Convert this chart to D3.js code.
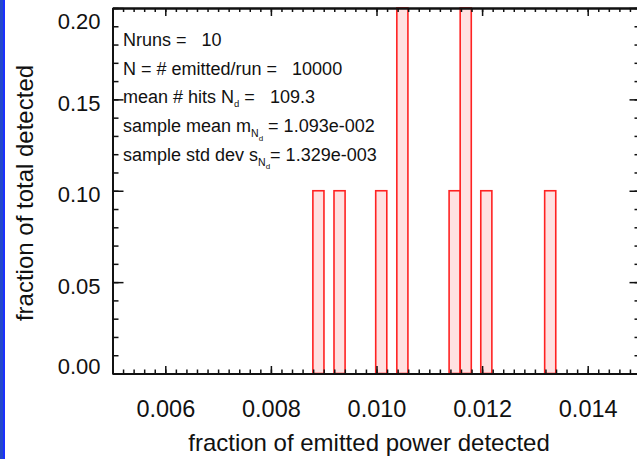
<!DOCTYPE html>
<html>
<head>
<meta charset="utf-8">
<script src="https://cdn.jsdelivr.net/npm/d3@7/dist/d3.min.js"></script>
<style>
  html, body { margin: 0; padding: 0; background: #fff; }
  svg { display: block; }
  text { font-family: "Liberation Sans", Arial, Helvetica, sans-serif; fill: #111; white-space: pre; }
</style>
</head>
<body>
<svg id="chart" width="637" height="459"></svg>
<script>
// ---- data ----
const binCenters = [0.00890, 0.00930, 0.01009, 0.01049, 0.01148, 0.01169, 0.01208, 0.01329];
const binHeights = [0.1, 0.1, 0.1, 0.2, 0.1, 0.2, 0.1, 0.1];
const binWidth = 0.00021;
const xDomain = [0.005, 0.015];
const yDomain = [0, 0.2];
const xMajorTicks = [0.006, 0.008, 0.010, 0.012, 0.014];
const yMajorTicks = [0.00, 0.05, 0.10, 0.15, 0.20];
const xTitle = "fraction of emitted power detected";
const yTitle = "fraction of total detected";
const annotations = [
  [{t: "Nruns =   10"}],
  [{t: "N = # emitted/run =   10000"}],
  [{t: "mean # hits N"}, {t: "d", sub: 1}, {t: " =   109.3"}],
  [{t: "sample mean m"}, {t: "N", sub: 1}, {t: "d", sub: 2}, {t: " = 1.093e-002"}],
  [{t: "sample std dev s"}, {t: "N", sub: 1}, {t: "d", sub: 2}, {t: "= 1.329e-003"}]
];

// ---- layout ----
const svg = d3.select("#chart");
const L = 112.5, R = 640.5, T = 8, B = 373.5;
const x = d3.scaleLinear().domain(xDomain).range([L, R]);
const y = d3.scaleLinear().domain(yDomain).range([B, T]);

// blue frame edge on the left
svg.append("rect").attr("x", 0).attr("y", 0).attr("width", 3).attr("height", 459).attr("fill", "#2348cc");
svg.append("rect").attr("x", 3).attr("y", 0).attr("width", 2).attr("height", 459).attr("fill", "#1a30ff");

// bars
svg.append("g").selectAll("rect").data(binCenters).join("rect")
  .attr("x", (d) => x(d - binWidth / 2))
  .attr("width", (d) => x(d + binWidth / 2) - x(d - binWidth / 2))
  .attr("y", (d, i) => y(binHeights[i]))
  .attr("height", (d, i) => y(0) - y(binHeights[i]))
  .attr("fill", "#ffe1e1")
  .attr("stroke", "#ff2222")
  .attr("stroke-width", 1.6);

// minor ticks
const xMinor = d3.range(0, 51).map(i => +(0.005 + i * 0.0002).toFixed(5));
const yMinor = d3.range(0, 21).map(i => +(i * 0.01).toFixed(3));

function styleAxis(g) {
  g.select(".domain").attr("stroke", "#111").attr("stroke-width", 1.8);
  g.selectAll(".tick line").attr("stroke", "#111").attr("stroke-width", 1.5);
}

// bottom
svg.append("g").attr("transform", `translate(0,${B})`)
  .call(d3.axisBottom(x).tickValues(xMinor).tickSize(-4).tickSizeOuter(0).tickFormat(""))
  .call(styleAxis);
const bx = svg.append("g").attr("transform", `translate(0,${B})`)
  .call(d3.axisBottom(x).tickValues(xMajorTicks).tickSize(-7.5).tickSizeOuter(0)
    .tickPadding(27).tickFormat(d3.format(".3f")))
  .call(styleAxis);
bx.selectAll("text").attr("font-size", 23.5).attr("fill", "#111")
  .attr("font-family", "Liberation Sans, Arial, sans-serif");

// top
svg.append("g").attr("transform", `translate(0,${T})`)
  .call(d3.axisTop(x).tickValues(xMinor).tickSize(-4).tickSizeOuter(0).tickFormat(""))
  .call(styleAxis);
svg.append("g").attr("transform", `translate(0,${T})`)
  .call(d3.axisTop(x).tickValues(xMajorTicks).tickSize(-8).tickSizeOuter(0).tickFormat(""))
  .call(styleAxis);

// left
svg.append("g").attr("transform", `translate(${L},0)`)
  .call(d3.axisLeft(y).tickValues(yMinor).tickSize(-6).tickSizeOuter(0).tickFormat(""))
  .call(styleAxis);
const ly = svg.append("g").attr("transform", `translate(${L},0)`)
  .call(d3.axisLeft(y).tickValues(yMajorTicks).tickSize(-11).tickSizeOuter(0)
    .tickPadding(12).tickFormat(d3.format(".2f")))
  .call(styleAxis);
ly.selectAll("text").attr("font-size", 22).attr("fill", "#111")
  .attr("font-family", "Liberation Sans, Arial, sans-serif")
  .attr("y", function(d) {
    const c = Math.min(Math.max(y(d) + 4, T + 13), B - 7);
    return c - y(d);
  });

// right
svg.append("g").attr("transform", `translate(${R},0)`)
  .call(d3.axisRight(y).tickValues(yMinor).tickSize(-6).tickSizeOuter(0).tickFormat(""))
  .call(styleAxis);
svg.append("g").attr("transform", `translate(${R},0)`)
  .call(d3.axisRight(y).tickValues(yMajorTicks).tickSize(-11).tickSizeOuter(0).tickFormat(""))
  .call(styleAxis);

// titles
svg.append("text").attr("x", 369).attr("y", 451).attr("text-anchor", "middle")
  .attr("font-size", 24).text(xTitle);
svg.append("text").attr("transform", "translate(33,193) rotate(-90)")
  .attr("text-anchor", "middle").attr("font-size", 24).text(yTitle);

// annotations
const baselines = [46, 74.7, 103.4, 132, 160.7];
const sub1 = (i) => (i === 2 ? {fs: 9.5, dy: 4} : {fs: 10.5, dy: 5});
const sub2 = {fs: 8, dy: 3.5};
annotations.forEach((parts, i) => {
  const t = svg.append("text").attr("x", 123).attr("y", baselines[i]).attr("font-size", 18);
  let shift = 0;
  parts.forEach(p => {
    const ts = t.append("tspan").text(p.t);
    if (p.sub === 1) {
      const s = sub1(i);
      ts.attr("font-size", s.fs).attr("dy", s.dy); shift += s.dy;
    } else if (p.sub === 2) {
      ts.attr("font-size", sub2.fs).attr("dy", sub2.dy); shift += sub2.dy;
    } else if (shift) {
      ts.attr("dy", -shift); shift = 0;
    }
  });
});
</script>
</body>
</html>
